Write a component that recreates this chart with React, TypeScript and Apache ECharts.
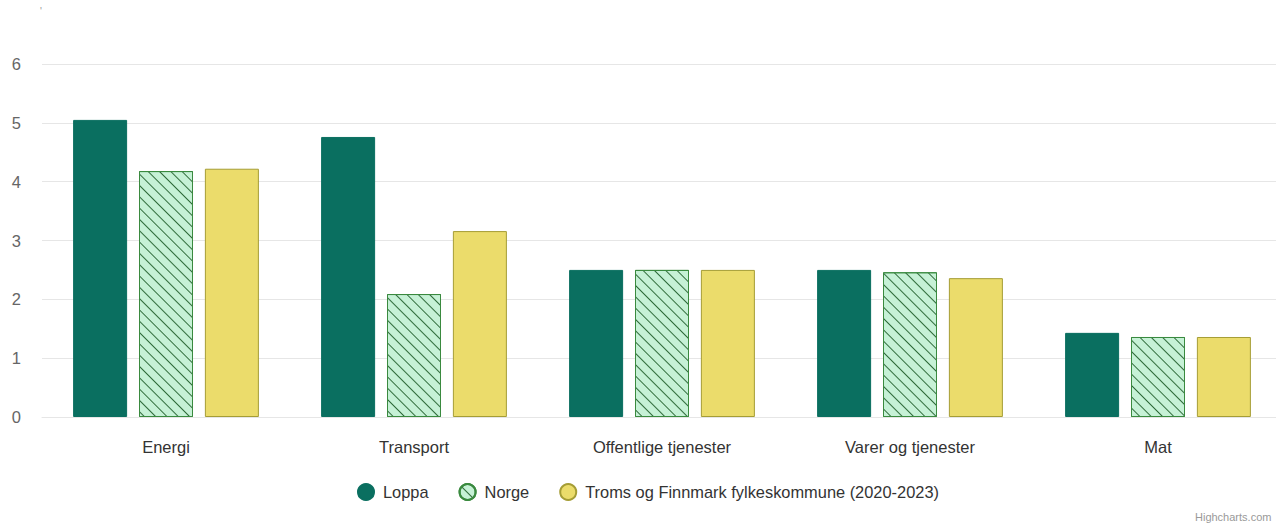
import React, { useEffect, useRef } from "react";
import * as echarts from "echarts";

const categories = ["Energi", "Transport", "Offentlige tjenester", "Varer og tjenester", "Mat"];
const loppa = [5.05, 4.76, 2.5, 2.5, 1.43];
const norge = [4.18, 2.09, 2.5, 2.46, 1.36];
const troms = [4.22, 3.16, 2.5, 2.36, 1.36];
const seriesNames = ["Loppa", "Norge", "Troms og Finnmark fylkeskommune (2020-2023)"];
const yTicks = [0, 1, 2, 3, 4, 5, 6];

export default function App() {
  const ref = useRef<HTMLDivElement>(null);
  useEffect(() => {
    if (!ref.current) return;
    const chart = echarts.init(ref.current, null, { renderer: "svg" });
    const font = "'Liberation Sans', Arial, sans-serif";
    chart.setOption({
      animation: false,
      textStyle: { fontFamily: font },
      grid: { left: 42, right: 2, top: 64, bottom: 107 },
      xAxis: {
        type: "category",
        data: categories,
        axisTick: { show: false },
        axisLine: { lineStyle: { color: "#e6e6e6" } },
        axisLabel: { color: "#333", fontSize: 16.5, margin: 21, fontFamily: font },
      },
      yAxis: {
        type: "value",
        min: yTicks[0],
        max: yTicks[yTicks.length - 1],
        interval: 1,
        axisLabel: { color: "#666", fontSize: 16.5, margin: 21, fontFamily: font },
        splitLine: { lineStyle: { color: "#e6e6e6" } },
      },
      legend: {
        top: 478,
        left: 352,
        icon: "circle",
        itemWidth: 16,
        itemHeight: 16,
        itemGap: 30,
        textStyle: { color: "#333", fontSize: 16.4, fontFamily: font, padding: [0, 0, 0, 4] },
        data: seriesNames,
      },
      graphic: [
        { type: "text", left: 40, top: 6, style: { text: "'", fill: "#999", fontSize: 10, fontFamily: font } },
        { type: "text", left: 1195, top: 511, style: { text: "Highcharts.com", fill: "#999", fontSize: 11, fontFamily: font } },
      ],
      series: [
        {
          name: seriesNames[0],
          type: "bar",
          data: loppa,
          barWidth: 54,
          barGap: "22%",
          itemStyle: { color: "#0a6f60", borderColor: "#0a6f60", borderWidth: 1 },
        },
        {
          name: seriesNames[1],
          type: "bar",
          data: norge,
          barWidth: 54,
          barGap: "22%",
          itemStyle: {
            color: "#c6f1d6",
            borderColor: "#3a8a3f",
            borderWidth: 1,
            decal: {
              symbol: "rect",
              symbolSize: 1,
              color: "#2f6b3a",
              dashArrayX: [1, 0],
              dashArrayY: [1, 7],
              rotation: Math.PI / 4,
            },
          },
        },
        {
          name: seriesNames[2],
          type: "bar",
          data: troms,
          barWidth: 54,
          barGap: "22%",
          itemStyle: { color: "#ebdc6b", borderColor: "#a59d35", borderWidth: 1 },
        },
      ],
    });
    return () => chart.dispose();
  }, []);
  return (
    <div
      ref={ref}
      style={{ position: "fixed", left: 0, top: 0, width: 1284, height: 524, background: "#fff" }}
    />
  );
}
